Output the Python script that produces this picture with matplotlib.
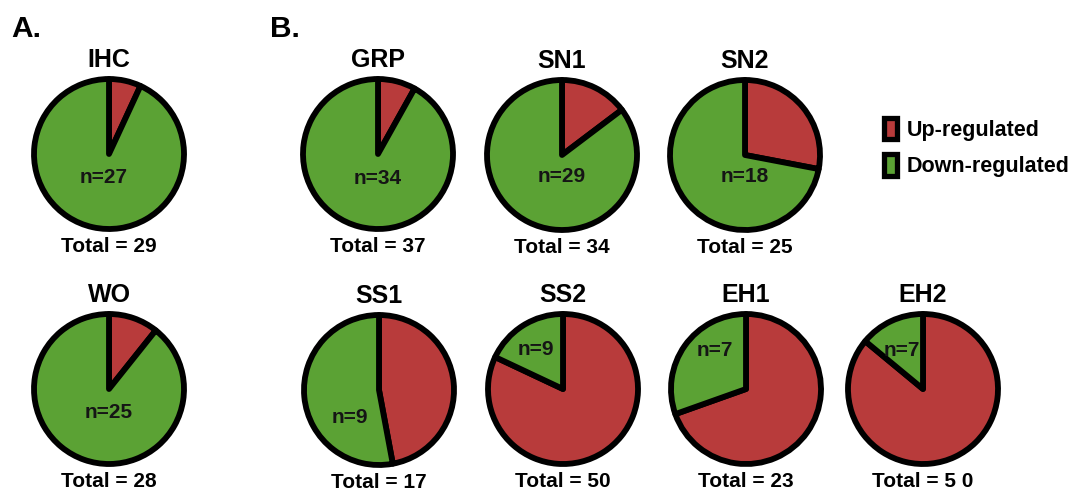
import matplotlib
matplotlib.use("Agg")
import matplotlib.pyplot as plt
from matplotlib.patches import Patch

plt.rcParams["font.family"] = ["Liberation Sans", "DejaVu Sans"]

# regulated counts per region
names = ["IHC", "WO", "GRP", "SN1", "SN2", "SS1", "SS2", "EH1", "EH2"]
down = [27, 25, 34, 29, 18, 9, 9, 7, 7]
total = [29, 28, 37, 34, 25, 17, 50, 23, 50]
total_labels = ["Total = 29", "Total = 28", "Total = 37", "Total = 34", "Total = 25",
                "Total = 17", "Total = 50", "Total = 23", "Total = 5 0"]
up = [t - d for t, d in zip(total, down)]

RED = "#B83B3B"
GREEN = "#5BA234"

# pie centres in pixels (x from left, y from top)
centres = [(109, 154), (109, 389), (378, 154), (562, 155), (745, 155),
           (379, 390), (563, 389), (746, 389), (923, 389)]
# where the n= label sits inside each pie (pie radius units)
n_pos = [(-0.07, -0.31), (0, -0.31), (0, -0.33), (0, -0.29), (0, -0.29),
         (-0.39, -0.37), (-0.36, 0.53), (-0.41, 0.52), (-0.28, 0.52)]

W, H = 1072, 490
R = 75      # pie radius, px
L = 1.35    # axis half-width, in radii

fig = plt.figure(figsize=(W / 100, H / 100), dpi=100)

for i, name in enumerate(names):
    cx, cy = centres[i]
    ax = fig.add_axes([(cx - R * L) / W, 1 - (cy + R * L) / H, 2 * R * L / W, 2 * R * L / H])
    ax.pie([up[i], down[i]], colors=[RED, GREEN], startangle=90, counterclock=False,
           wedgeprops=dict(edgecolor="black", linewidth=4.2, joinstyle="round"))
    ax.set_xlim(-L, L)
    ax.set_ylim(-L, L)
    ax.axis("off")
    ax.text(0, 1.25, name, ha="center", va="center", fontsize=18, fontweight="bold")
    ax.text(0, -1.23, total_labels[i], ha="center", va="center", fontsize=15, fontweight="bold")
    ax.text(n_pos[i][0], n_pos[i][1], "n=%d" % down[i], ha="center", va="center",
            fontsize=15, fontweight="bold", color="#151515")

fig.text(11 / W, 1 - 29 / H, "A.", ha="left", va="center", fontsize=21.5, fontweight="bold")
fig.text(270 / W, 1 - 29 / H, "B.", ha="left", va="center", fontsize=21.5, fontweight="bold")

handles = [Patch(facecolor=RED, edgecolor="black", linewidth=3.8),
           Patch(facecolor=GREEN, edgecolor="black", linewidth=3.8)]
fig.legend(handles, ["Up-regulated", "Down-regulated"], loc="upper left",
           bbox_to_anchor=(884 / W, 1 - 118 / H), frameon=False, borderpad=0,
           borderaxespad=0, handlelength=0.6, handleheight=1.15, handletextpad=0.45,
           labelspacing=0.62, prop=dict(size=15.5, weight="bold"))

fig.savefig("out.png", dpi=100)
